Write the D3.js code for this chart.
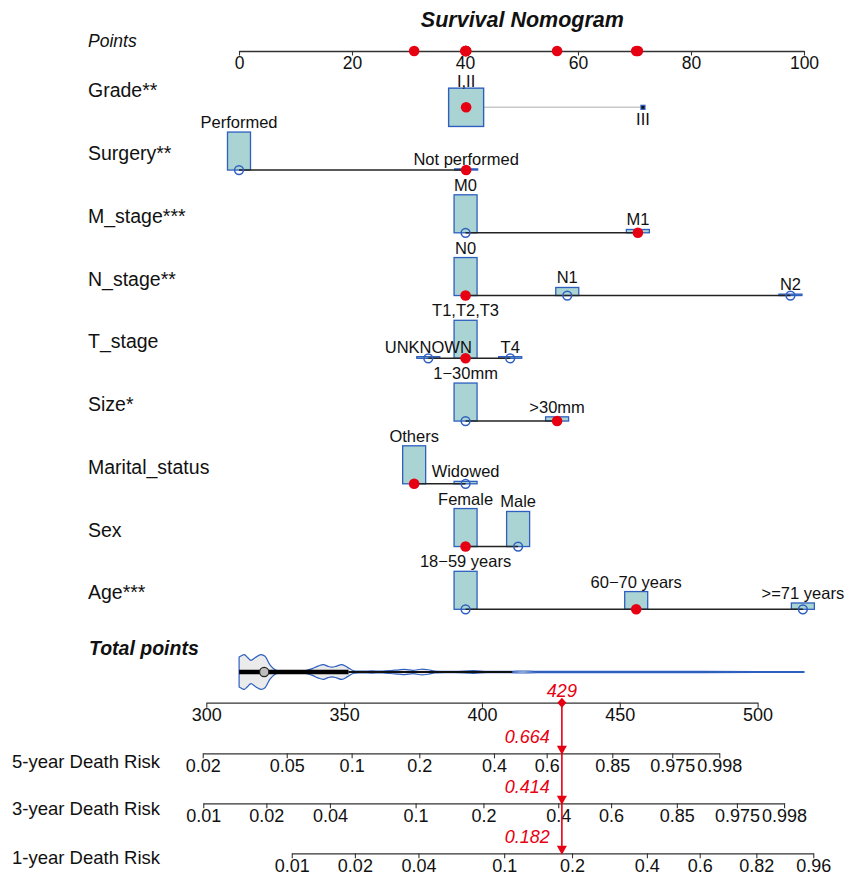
<!DOCTYPE html>
<html>
<head>
<meta charset="utf-8">
<script src="https://cdn.jsdelivr.net/npm/d3@7"></script>
<style>
  body { margin: 0; background: #fff; }
  text { font-family: "Liberation Sans", Arial, Helvetica, sans-serif; }
</style>
</head>
<body>
<script>
// ---------------- DATA ----------------
const chartTitle = "Survival Nomogram";
const pointsTicks = [0, 20, 40, 60, 80, 100];
const rowLabels = ["Grade**", "Surgery**", "M_stage***", "N_stage**", "T_stage", "Size*", "Marital_status", "Sex", "Age***"];
const levelNames = [
  ["I,II", "III"],
  ["Performed", "Not performed"],
  ["M0", "M1"],
  ["N0", "N1", "N2"],
  ["UNKNOWN", "T1,T2,T3", "T4"],
  ["1\u221230mm", ">30mm"],
  ["Others", "Widowed"],
  ["Female", "Male"],
  ["18\u221259 years", "60\u221270 years", ">=71 years"]
];
const levelPoints = [
  [40.2, 71.5],
  [0, 40.2],
  [40.1, 70.6],
  [40.1, 58.1, 97.6],
  [33.5, 40.1, 48.0],
  [40.1, 56.3],
  [31.0, 40.1],
  [40.1, 49.4],
  [40.1, 70.3, 99.8]
];
const levelFreq = [
  [0.993, 0.007],
  [0.97, 0.03],
  [0.92, 0.08],
  [0.80, 0.17, 0.03],
  [0.04, 0.92, 0.04],
  [0.90, 0.10],
  [0.94, 0.06],
  [0.52, 0.48],
  [0.60, 0.28, 0.10]
];
const selectedLevel = [0, 1, 1, 0, 1, 1, 0, 0, 1];

const totalTicks = [300, 350, 400, 450, 500];
const totalScore = 429;
// violin profile of total points: [total points, relative density]
const violinProfile = [
  [311.9, 0.81], [313.0, 0.90], [313.8, 0.94], [315.0, 0.78], [316.2, 0.63], [317.8, 0.78],
  [319.8, 0.94], [321.3, 0.85], [323.1, 0.39], [324.7, 0.15], [326.1, 0.06], [329, 0.05],
  [333, 0.05], [336, 0.08], [338.5, 0.18], [340.5, 0.32], [342.5, 0.40], [344.2, 0.30],
  [345.6, 0.26], [347.3, 0.32], [349.2, 0.40], [351.2, 0.25], [353.2, 0.08], [356, 0.05],
  [360, 0.06], [364, 0.05], [367, 0.08], [370, 0.12], [372, 0.14], [375, 0.09], [378, 0.15],
  [380.5, 0.12], [383, 0.05], [390, 0.04], [397, 0.07], [402, 0.04], [410, 0.035],
  [415, 0.055], [420, 0.035], [440, 0.03], [470, 0.03], [500, 0.025], [516.8, 0.025]
];
const boxStats = { min: 311.9, median: 321.0, q3: 351.6, whisker: 411.0 };

const riskLabels = ["5-year Death Risk", "3-year Death Risk", "1-year Death Risk"];
const riskTicks = [
  [0.02, 0.05, 0.1, 0.2, 0.4, 0.6, 0.85, 0.975, 0.998],
  [0.01, 0.02, 0.04, 0.1, 0.2, 0.4, 0.6, 0.85, 0.975, 0.998],
  [0.01, 0.02, 0.04, 0.1, 0.2, 0.4, 0.6, 0.82, 0.96]
];
// total points at which the first and last tick of each risk axis sit
const riskEnds = [[298.7, 486.1], [298.9, 509.6], [331.0, 520.2]];
const riskValues = [0.664, 0.414, 0.182];

// ---------------- LAYOUT ----------------
const W = 845, H = 876;
const RED = "#e60012", BLUE = "#2e5fbf", FILL = "#aad3d3", INK = "#222";
const pointsAxisY = 51;
const rowY0 = 107.3, rowStep = 62.75;
const violinY = 672, totalAxisY = 702.7;
const riskAxisY = [753.3, 803.3, 853.3];
const riskLabelY = [768, 815, 863.5];

const svg = d3.select("body").append("svg").attr("width", W).attr("height", H);
svg.append("rect").attr("width", W).attr("height", H).attr("fill", "#fff");

const px = d3.scaleLinear().domain([0, 100]).range([239, 804]);
const tx = d3.scaleLinear().domain([300, 500]).range([206.3, 757.6]);

function styleAxis(g, fs) {
  g.select(".domain").attr("stroke", "#333").attr("stroke-width", 1.3);
  g.selectAll(".tick line").attr("stroke", "#333").attr("stroke-width", 1.1);
  g.selectAll(".tick text").attr("fill", "#111").style("font-size", fs + "px")
    .style("font-family", '"Liberation Sans", Arial, sans-serif');
}

// Title
svg.append("text").attr("x", 522.4).attr("y", 26.7).attr("text-anchor", "middle")
  .style("font-size", "21.5px").style("font-weight", "bold").style("font-style", "italic")
  .attr("fill", "#111").text(chartTitle);

// Points axis
svg.append("text").attr("x", 88).attr("y", 46.7).style("font-size", "17.5px")
  .style("font-style", "italic").attr("fill", "#111").text("Points");
const gp = svg.append("g").attr("transform", `translate(0,${pointsAxisY})`)
  .call(d3.axisBottom(px).tickValues(pointsTicks).tickSize(4.5).tickSizeOuter(0).tickPadding(0.6));
styleAxis(gp, 17.5);

// Variable rows
rowLabels.forEach((lab, i) => {
  const y = rowY0 + rowStep * i;
  const pts = levelPoints[i], fr = levelFreq[i], names = levelNames[i];
  const maxF = d3.max(fr);
  const g = svg.append("g");
  g.append("text").attr("x", 88).attr("y", y - 10).style("font-size", "19.5px")
    .attr("fill", "#111").text(lab);
  const xmin = px(d3.min(pts)), xmax = px(d3.max(pts));
  if (i === 0) {
    // centred squares, area proportional to frequency
    const s = d3.scaleSqrt().domain([0, maxF]).range([0, 1]);
    g.append("line").attr("x1", xmin).attr("x2", xmax).attr("y1", y).attr("y2", y)
      .attr("stroke", "#c8c8c8").attr("stroke-width", 1.6);
    pts.forEach((p, j) => {
      const w = Math.max(35 * s(fr[j]), 4), h = Math.max(38.3 * s(fr[j]), 4);
      g.append("rect").attr("x", px(p) - w / 2).attr("y", y - h / 2).attr("width", w).attr("height", h)
        .attr("fill", j === 0 ? FILL : "#111").attr("stroke", BLUE).attr("stroke-width", j === 0 ? 1.4 : 1.2);
      if (j === 0) {
        g.append("text").attr("x", px(p)).attr("y", y - h / 2 - 0.9).attr("text-anchor", "middle")
          .style("font-size", "16.5px").attr("fill", "#111").text(names[j]);
      } else {
        g.append("text").attr("x", px(p)).attr("y", y + 17.7).attr("text-anchor", "middle")
          .style("font-size", "16.5px").attr("fill", "#111").text(names[j]);
      }
    });
    const sp = pts[selectedLevel[i]];
    g.append("circle").attr("cx", px(sp)).attr("cy", y).attr("r", 5.3).attr("fill", RED);
  } else {
    const hs = d3.scaleLinear().domain([0, maxF]).range([0, 38]);
    pts.forEach((p, j) => {
      const h = Math.max(hs(fr[j]), 1);
      g.append("rect").attr("x", px(p) - 11.5).attr("y", y - h).attr("width", 23).attr("height", h)
        .attr("fill", FILL).attr("stroke", BLUE).attr("stroke-width", 1.3);
    });
    g.append("line").attr("x1", xmin).attr("x2", xmax).attr("y1", y).attr("y2", y)
      .attr("stroke", INK).attr("stroke-width", 1.5);
    pts.forEach((p, j) => {
      const h = Math.max(hs(fr[j]), 1);
      g.append("text").attr("x", px(p)).attr("y", y - h - 4).attr("text-anchor", "middle")
        .style("font-size", "16.5px").attr("fill", "#111").text(names[j]);
      if (j === selectedLevel[i]) {
        g.append("circle").attr("cx", px(p)).attr("cy", y).attr("r", 5.3).attr("fill", RED);
      } else {
        g.append("circle").attr("cx", px(p)).attr("cy", y).attr("r", 4.4)
          .attr("fill", "none").attr("stroke", BLUE).attr("stroke-width", 1.5);
      }
    });
  }
});

// red dots on Points axis (each selected level's points)
selectedLevel.forEach((s, i) => {
  svg.append("circle").attr("cx", px(levelPoints[i][s])).attr("cy", pointsAxisY)
    .attr("r", 5.3).attr("fill", RED);
});

// Total points
svg.append("text").attr("x", 89).attr("y", 655).style("font-size", "19.5px")
  .style("font-weight", "bold").style("font-style", "italic").attr("fill", "#111").text("Total points");

const dens = d3.scaleLinear().domain([0, 1]).range([0, 18.5]);
const area = d3.area().x(d => tx(d[0])).y0(d => violinY - dens(d[1])).y1(d => violinY + dens(d[1]))
  .curve(d3.curveCatmullRom);
svg.append("path").datum(violinProfile).attr("d", area)
  .attr("fill", "#ebebeb").attr("stroke", BLUE).attr("stroke-width", 1.2);
svg.append("line").attr("x1", tx(boxStats.q3)).attr("x2", tx(boxStats.whisker))
  .attr("y1", violinY).attr("y2", violinY).attr("stroke", "#111").attr("stroke-width", 1.8);
svg.append("line").attr("x1", tx(boxStats.min)).attr("x2", tx(boxStats.q3))
  .attr("y1", violinY).attr("y2", violinY).attr("stroke", "#000").attr("stroke-width", 4.5);
svg.append("circle").attr("cx", tx(boxStats.median)).attr("cy", violinY).attr("r", 4.6)
  .attr("fill", "#bdbdbd").attr("stroke", "#222").attr("stroke-width", 1.2);

const gt = svg.append("g").attr("transform", `translate(0,${totalAxisY})`)
  .call(d3.axisBottom(tx).tickValues(totalTicks).tickSize(5).tickSizeOuter(0).tickPadding(1));
styleAxis(gt, 18);

// Risk axes
const cll = p => Math.log(-Math.log(1 - p));
const riskScales = riskTicks.map((t, k) =>
  d3.scaleLinear().domain([cll(t[0]), cll(t[t.length - 1])]).range([tx(riskEnds[k][0]), tx(riskEnds[k][1])]));

riskLabels.forEach((lab, k) => {
  svg.append("text").attr("x", 12).attr("y", riskLabelY[k]).style("font-size", "18.5px")
    .attr("fill", "#111").text(lab);
  const g = svg.append("g").attr("transform", `translate(0,${riskAxisY[k]})`)
    .call(d3.axisBottom(riskScales[k]).tickValues(riskTicks[k].map(cll))
      .tickFormat((d, i) => String(riskTicks[k][i])).tickSize(5).tickSizeOuter(0).tickPadding(1));
  styleAxis(g, 18);
});

// Red marker for this patient
const xr = tx(totalScore);
svg.append("line").attr("x1", xr).attr("x2", xr).attr("y1", totalAxisY).attr("y2", riskAxisY[2])
  .attr("stroke", RED).attr("stroke-width", 1.6);
svg.append("path").attr("d", `M${xr},${totalAxisY - 5}L${xr + 4.5},${totalAxisY}L${xr},${totalAxisY + 5}L${xr - 4.5},${totalAxisY}Z`)
  .attr("fill", RED);
svg.append("text").attr("x", xr).attr("y", totalAxisY - 6).attr("text-anchor", "middle")
  .style("font-size", "18px").style("font-style", "italic").attr("fill", RED).text(String(totalScore));
riskValues.forEach((v, k) => {
  const ay = riskAxisY[k];
  svg.append("path").attr("d", `M${xr - 5},${ay - 7.5}L${xr + 5},${ay - 7.5}L${xr},${ay + 1.5}Z`).attr("fill", RED);
  svg.append("text").attr("x", xr - 12).attr("y", ay - 10).attr("text-anchor", "end")
    .style("font-size", "18px").style("font-style", "italic").attr("fill", RED).text(String(v));
});
</script>
</body>
</html>
